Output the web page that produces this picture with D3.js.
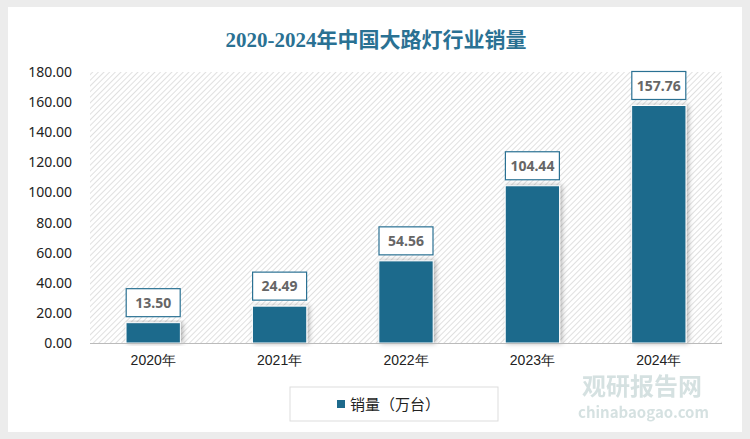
<!DOCTYPE html>
<html><head><meta charset="utf-8">
<script src="https://cdn.jsdelivr.net/npm/d3@7"></script>
<style>body{margin:0;background:#ececec;font-family:"Noto Sans CJK SC","Noto Sans",sans-serif}</style>
</head><body>
<svg id="c" width="750" height="439"></svg>
<script>
const years = ["2020年","2021年","2022年","2023年","2024年"];
const sales = [13.50, 24.49, 54.56, 104.44, 157.76];
const yTicks = [0,20,40,60,80,100,120,140,160,180];

const svg = d3.select("#c");
const defs = svg.append("defs");
const pat = defs.append("pattern").attr("id","hatch").attr("patternUnits","userSpaceOnUse")
  .attr("width",4).attr("height",4).attr("patternTransform","rotate(45)");
pat.append("rect").attr("width",4).attr("height",4).attr("fill","#fff");
pat.append("line").attr("x1",0).attr("y1",0).attr("x2",0).attr("y2",4).attr("stroke","#cfcfcf").attr("stroke-width",1.3);
const f = defs.append("filter").attr("id","sh").attr("x","-30%").attr("y","-10%").attr("width","160%").attr("height","120%");
f.append("feDropShadow").attr("dx",2).attr("dy",0).attr("stdDeviation",2.5).attr("flood-color","#000").attr("flood-opacity",0.3);

svg.append("rect").attr("x",8).attr("y",7).attr("width",734).attr("height",425).attr("fill","#fff");

svg.append("text").attr("x",376).attr("y",47).attr("text-anchor","middle")
  .attr("font-size",21).attr("font-weight","bold").attr("fill","#2a7193")
  .attr("font-family","'Liberation Serif','Noto Sans CJK SC',serif").text("2020-2024年中国大路灯行业销量");

const x = d3.scaleBand().domain(years).range([90,722]).paddingInner(0.57).paddingOuter(0.285);
const y = d3.scaleLinear().domain([0,180]).range([343,72]);

svg.append("rect").attr("x",90).attr("y",72).attr("width",632).attr("height",271).attr("fill","url(#hatch)");

const ya = svg.append("g").attr("transform","translate(75,0)")
  .call(d3.axisLeft(y).tickValues(yTicks).tickFormat(d3.format(".2f")).tickSize(0));
ya.select(".domain").remove();
ya.selectAll("text").attr("font-size",14).attr("fill","#222").attr("font-family","'Noto Sans','DejaVu Sans',sans-serif");

svg.selectAll(".bar").data(sales).join("rect")
  .attr("x",(d,i)=>x(years[i])).attr("width",x.bandwidth())
  .attr("y",d=>y(d)).attr("height",d=>y(0)-y(d))
  .attr("fill","#1d6a8c").attr("stroke","#fff").attr("stroke-width",1).attr("filter","url(#sh)");

svg.append("line").attr("x1",90).attr("x2",722).attr("y1",343.5).attr("y2",343.5).attr("stroke","#bbb");

const xa = svg.append("g").attr("transform","translate(0,343)").call(d3.axisBottom(x).tickSize(0).tickPadding(12));
xa.select(".domain").remove();
xa.selectAll("text").attr("font-size",14).attr("fill","#222");

const lab = svg.selectAll(".lab").data(sales).join("g")
  .attr("transform",(d,i)=>`translate(${x(years[i])+x.bandwidth()/2},${y(d)-20})`);
lab.append("rect").attr("x",-27).attr("y",-14).attr("width",54).attr("height",28)
  .attr("fill","#fff").attr("stroke","#2a7193").attr("stroke-width",1.2);
lab.append("text").attr("text-anchor","middle").attr("dy","0.36em").attr("font-size",14)
  .attr("font-weight","bold").attr("fill","#666").attr("font-family","'Noto Sans',sans-serif")
  .text(d=>d3.format(".2f")(d));

const lg = svg.append("g");
lg.append("rect").attr("x",290).attr("y",387).attr("width",208).attr("height",34).attr("fill","#fff").attr("stroke","#ddd");
lg.append("rect").attr("x",337).attr("y",400).attr("width",8).attr("height",8).attr("fill","#1d6a8c");
lg.append("text").attr("x",350).attr("y",410).attr("font-size",15).attr("fill","#222").text("销量（万台）");

const wm = svg.append("g").attr("opacity",0.35);
wm.append("text").attr("x",582).attr("y",395).attr("font-size",24).attr("font-weight","bold").attr("fill","#8aa").text("观研报告网");
wm.append("text").attr("x",578).attr("y",418).attr("font-size",15).attr("font-weight","bold").attr("fill","#8aa").text("chinabaogao.com");
</script>
</body></html>
